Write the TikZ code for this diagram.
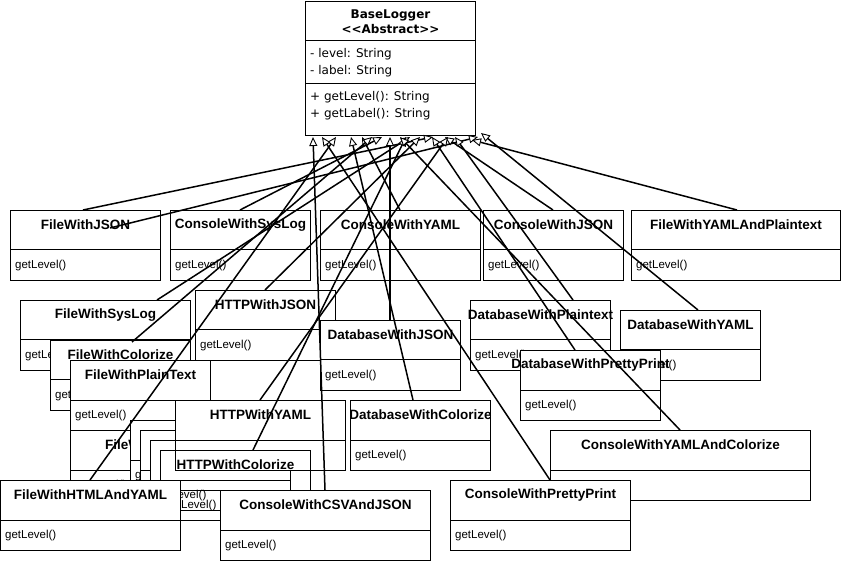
\documentclass[tikz,border=0pt]{standalone}
\usepackage{fontspec}
\setmainfont{Liberation Sans}
\newfontfamily\dvs{DejaVu Sans}
\usetikzlibrary{arrows.meta}
\tikzset{
  ttl/.style={font=\bfseries\fontsize{13.5}{15}\selectfont, inner sep=0pt},
  bdy/.style={font=\fontsize{11.5}{13}\selectfont, inner sep=0pt},
  boxfill/.style={draw=black, line width=1pt, fill=white},
  boxnofill/.style={draw=black, line width=1pt},
  inh/.style={draw=black, line width=1.5pt, -{Triangle[length=9pt,width=8pt,fill=white,line width=0.9pt]}},
}
\newcommand\ubox[7]{% style, name, x, y, w, title, body
  \node[#1, anchor=north west, minimum width=#5pt, minimum height=70pt, inner sep=0pt] (#2) at (#3,#4) {};
  \draw[line width=1pt] ([yshift=-40pt]#2.north west) -- ([yshift=-40pt]#2.north east);
  \node[ttl] (#2-t) at ([yshift=-15pt]#2.north) {#6};
  \node[bdy, anchor=west] (#2-b) at ([xshift=5pt,yshift=-56pt]#2.north west) {#7};
}
\begin{document}
\begin{tikzpicture}[x=1pt,y=-1pt]
\useasboundingbox (0,0) rectangle (841,561);
\fill[white] (0,0) rectangle (841,561);
% base class
\node[boxfill, anchor=north west, minimum width=170pt, minimum height=134pt, inner sep=0pt] (base) at (305,1) {};
\draw[line width=1pt] ([yshift=-40pt]base.north west) -- ([yshift=-40pt]base.north east);
\draw[line width=1pt] ([yshift=-83pt]base.north west) -- ([yshift=-83pt]base.north east);
\node[font=\dvs\bfseries\fontsize{12}{15}\selectfont, align=center, inner sep=0pt] (base-t) at ([yshift=-21pt]base.north) {BaseLogger\\<{}<Abstract>{}>};
\node[font=\dvs\fontsize{12}{17}\selectfont, align=left, anchor=north west, inner sep=0pt] (base-a) at ([xshift=5pt,yshift=-47pt]base.north west) {- level: String\\- label: String};
\node[font=\dvs\fontsize{12}{17}\selectfont, align=left, anchor=north west, inner sep=0pt] (base-m) at ([xshift=5pt,yshift=-90pt]base.north west) {+ getLevel(): String\\+ getLabel(): String};
% row 1
\ubox{boxfill}{fjson}{10}{210}{150}{FileWithJSON}{getLevel()}
\ubox{boxfill}{csys}{170}{210}{140}{ConsoleWithSysLog}{getLevel()}
\ubox{boxfill}{cyaml}{320}{210}{160}{ConsoleWithYAML}{getLevel()}
\ubox{boxfill}{cjson}{483}{210}{140}{ConsoleWithJSON}{getLevel()}
\ubox{boxfill}{fyp}{631}{210}{209}{FileWithYAMLAndPlaintext}{getLevel()}
% left cluster
\ubox{boxfill}{fsys}{20}{300}{170}{FileWithSysLog}{getLevel()}
\ubox{boxfill}{fcol}{50}{340}{140}{FileWithColorize}{getLevel()}
\ubox{boxfill}{fplain}{70}{360}{140}{FileWithPlainText}{getLevel()}
\ubox{boxfill}{hjson}{195}{290}{140}{HTTPWithJSON}{getLevel()}
\ubox{boxfill}{djson}{320}{320}{140}{DatabaseWithJSON}{getLevel()}
\ubox{boxfill}{fw}{70}{430}{150}{FileWithXML}{getLevel()}
\ubox{boxfill}{gA}{130}{420}{150}{}{getLevel()}
\ubox{boxfill}{gB}{140}{430}{150}{}{getLevel()}
\ubox{boxfill}{gC}{150}{440}{140}{}{getLevel()}
\ubox{boxfill}{hyaml}{175}{400}{170}{HTTPWithYAML}{}
\ubox{boxnofill}{hcol}{160}{450}{150}{HTTPWithColorize}{getLevel()}
\ubox{boxfill}{dcol}{350}{400}{140}{DatabaseWithColorize}{getLevel()}
% right cluster
\ubox{boxfill}{dplain}{470}{300}{140}{DatabaseWithPlaintext}{getLevel()}
\ubox{boxfill}{dyaml}{620}{310}{140}{DatabaseWithYAML}{getLevel()}
\ubox{boxfill}{dpp}{520}{350}{140}{DatabaseWithPrettyPrint}{getLevel()}
\ubox{boxfill}{cyc}{550}{430}{260}{ConsoleWithYAMLAndColorize}{}
\ubox{boxfill}{cpp}{450}{480}{180}{ConsoleWithPrettyPrint}{getLevel()}
% bottom
\ubox{boxfill}{fhy}{0}{480}{180}{FileWithHTMLAndYAML}{getLevel()}
\ubox{boxfill}{ccj}{220}{490}{210}{ConsoleWithCSVAndJSON}{getLevel()}
% connector end points
\coordinate (e1a) at (83,210);   \coordinate (e1b) at (433,137);
\coordinate (e2a) at (110,228);  \coordinate (e2b) at (478,137);
\coordinate (e3a) at (240,210);  \coordinate (e3b) at (382,137);
\coordinate (e4a) at (400,210);  \coordinate (e4b) at (362,137);
\coordinate (e5a) at (553,210);  \coordinate (e5b) at (445,137);
\coordinate (e6a) at (737,210);  \coordinate (e6b) at (472,140);
\coordinate (e7a) at (157,300);  \coordinate (e7b) at (410,137);
\coordinate (e8a) at (132,342);  \coordinate (e8b) at (372,137);
\coordinate (e9a) at (90,480);   \coordinate (e9b) at (336,137);
\coordinate (e10a) at (325,490); \coordinate (e10b) at (313,137);
\coordinate (e11a) at (390,320); \coordinate (e11b) at (390,137);
\coordinate (e12a) at (260,400); \coordinate (e12b) at (448,137);
\coordinate (e13a) at (253,450); \coordinate (e13b) at (406,137);
\coordinate (e14a) at (413,400); \coordinate (e14b) at (351,137);
\coordinate (e15a) at (575,350); \coordinate (e15b) at (432,137);
\coordinate (e16a) at (680,430); \coordinate (e16b) at (400,137);
\coordinate (e17a) at (550,480); \coordinate (e17b) at (322,137);
\coordinate (e18a) at (698,310); \coordinate (e18b) at (481,133);
\coordinate (e19a) at (265,290); \coordinate (e19b) at (420,137);
\coordinate (e20a) at (573,300); \coordinate (e20b) at (455,137);
\foreach \i in {1,...,20} { \draw[inh] (e\i a) -- (e\i b); }
\end{tikzpicture}
\end{document}
